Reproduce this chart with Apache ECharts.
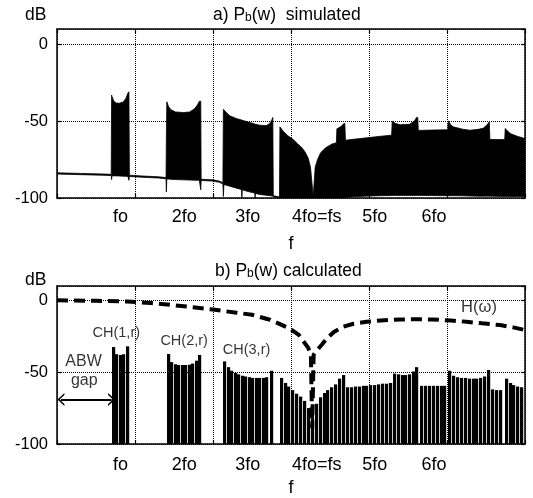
<!DOCTYPE html>
<html><head><meta charset="utf-8">
<script src="https://cdn.jsdelivr.net/npm/echarts@6/dist/echarts.min.js"></script>
<style>html,body{margin:0;padding:0;background:#fff}#c{width:533px;height:498px}</style>
</head><body><div id="c"></div>
<script>
// ---------- data ----------
// x in grid units (6 grid divisions across the plot), y in dB
const harmonicLabels = ['', 'fo', '2fo', '3fo', '4fo=fs', '5fo', '6fo', ''];
const foInGridUnits = 0.815;

// a) simulated spectrum: lower / upper envelope of the dense trace
const simX = [0.000,0.300,0.600,0.695,0.700,0.705,0.730,0.760,0.800,0.850,0.885,0.910,0.922,0.928,1.100,1.300,1.398,1.402,1.408,1.430,1.460,1.520,1.620,1.700,1.760,1.800,1.825,1.843,1.848,2.000,2.080,2.127,2.133,2.140,2.180,2.215,2.300,2.365,2.370,2.375,2.450,2.535,2.540,2.545,2.600,2.680,2.730,2.755,2.767,2.773,2.852,2.858,2.900,2.960,3.030,3.080,3.135,3.180,3.220,3.250,3.285,3.310,3.340,3.380,3.440,3.520,3.582,3.588,3.640,3.680,3.690,3.698,3.800,4.010,4.150,4.290,4.298,4.340,4.400,4.520,4.580,4.610,4.625,4.632,4.800,5.010,5.018,5.050,5.080,5.200,5.295,5.400,5.465,5.520,5.542,5.550,5.740,5.746,5.780,5.810,5.900,6.000];
const simLower = [-84.4,-84.8,-85.2,-85.4,-88.0,-85.5,-85.6,-85.6,-85.7,-85.8,-85.9,-86.0,-88.5,-86.0,-86.5,-87.0,-87.5,-96.0,-87.6,-87.7,-87.8,-88.0,-88.2,-88.3,-88.4,-88.5,-88.5,-94.7,-88.6,-89.0,-89.8,-90.8,-99.0,-91.2,-91.8,-92.3,-93.6,-94.5,-99.8,-94.7,-95.8,-96.8,-99.8,-97.0,-97.7,-98.2,-98.5,-98.7,-98.8,-99.2,-99.8,-100,-100,-100,-100,-100,-100,-100,-100,-100,-100,-100,-100,-100,-100,-100,-100,-100,-100,-100,-99.8,-99.6,-99.2,-98.7,-98.5,-98.4,-98.4,-98.3,-98.3,-98.3,-98.3,-98.3,-98.3,-98.3,-98.4,-98.5,-98.5,-98.5,-98.5,-98.6,-98.7,-98.8,-98.8,-98.8,-98.8,-98.8,-99.0,-99.0,-99.0,-99.0,-99.0,-99.0];
const simUpper = [-83.6,-84.0,-84.4,-84.6,-33.0,-34.0,-37.0,-38.2,-38.3,-37.5,-35.0,-31.5,-30.9,-85.2,-85.7,-86.2,-86.7,-61.0,-37.4,-40.5,-42.5,-44.0,-44.4,-44.0,-42.0,-39.5,-37.0,-37.0,-87.8,-88.2,-89.0,-90.0,-42.4,-42.6,-44.8,-46.5,-48.3,-49.2,-49.3,-49.4,-50.5,-51.8,-51.9,-52.0,-52.6,-52.9,-51.5,-49.0,-47.6,-98.5,-99.3,-53.7,-56.5,-59.5,-62.0,-64.5,-67.0,-70.0,-74.0,-80.0,-99.0,-80.0,-75.0,-70.5,-67.5,-65.0,-64.0,-55.0,-53.5,-51.5,-51.5,-62.4,-61.8,-60.6,-59.8,-59.1,-50.0,-51.5,-52.3,-52.0,-50.0,-47.6,-47.6,-56.0,-55.8,-55.6,-49.8,-52.5,-53.7,-55.2,-55.9,-55.3,-54.6,-52.0,-50.4,-61.9,-62.0,-54.8,-56.5,-58.0,-59.8,-61.3];

// b) calculated spectrum: spectral lines (bars) from the floor
const calcX = [0.72,0.765,0.81,0.86,0.905,
  1.425,1.47,1.515,1.56,1.605,1.65,1.695,1.74,1.785,1.825,
  2.15,2.195,2.24,2.285,2.33,2.375,2.42,2.465,2.51,2.555,2.60,2.645,2.69,2.75,
  2.875,2.925,2.975,3.025,3.075,3.125,3.175,3.225,3.275,3.325,3.375,3.425,3.475,3.525,3.575,3.625,3.675,
  3.725,3.775,3.825,3.875,3.925,3.975,4.025,4.075,4.125,4.175,4.225,4.275,
  4.325,4.375,4.425,4.475,4.525,4.575,4.615,
  4.675,4.725,4.775,4.825,4.875,4.925,4.975,
  5.035,5.085,5.135,5.185,5.235,5.285,5.335,5.385,5.435,5.485,5.53,
  5.585,5.635,5.685,5.76,5.81,5.86,5.91,5.96];
const calcY = [-32.5,-37.5,-38,-37.5,-32,
  -37.3,-43,-44.5,-45,-45,-45,-44.8,-44,-42,-38,
  -42.5,-46.5,-49,-50.5,-51.5,-52.5,-53,-53.5,-54,-54,-54,-54,-53.5,-49,
  -54,-57.5,-60,-62.5,-65,-67,-70,-75,-82,-72,-67.5,-64.5,-62.5,-60.5,-58.5,-54.5,-52,
  -60.5,-60.5,-60,-60,-59.5,-59.5,-59,-59,-58.5,-58,-58,-57.5,
  -51,-51.5,-52,-52,-51.5,-49.5,-46.5,
  -59.5,-59.5,-59.5,-59.5,-59.5,-59.5,-59.5,
  -49,-52.5,-53.5,-54,-54,-54.5,-54.5,-54.5,-54,-53,-48.5,
  -62,-62.5,-62.5,-54.5,-57.5,-59,-60,-60.5];

// H(omega) response (dashed)
const hX = [0,0.5,0.9,1.2,1.5,1.8,2.0,2.3,2.5,2.73,2.98,3.1,3.16,3.22,3.255,3.272,3.29,3.33,3.4,3.46,3.55,3.67,3.8,3.97,4.2,4.4,4.6,4.82,5.05,5.25,5.45,5.68,5.85,6.0];
const hY = [0,-0.3,-0.8,-1.8,-3.4,-5.1,-6.4,-8.6,-10,-13.5,-19.5,-24,-28.5,-33,-38,-89,-38,-35,-30.5,-26.5,-22,-18.4,-16.3,-14.9,-13.8,-13.3,-13.1,-13.3,-14,-14.9,-16,-17.2,-18.8,-20.7];

const annotationTexts = ['CH(1,r)', 'CH(2,r)', 'CH(3,r)', 'ABW', 'gap', 'H(\u03c9)'];
const abwGapEnds = [0.05, 0.70];
const abwGapLevel = -69;

// ---------- chart ----------
const FONT = '"Liberation Sans", Arial, sans-serif';
const chart = echarts.init(document.getElementById('c'), null, {renderer: 'canvas'});

function gridX(gi, nameGap, labelMargin) {
  return [
    {gridIndex: gi, type: 'value', min: 0, max: 6, interval: 1, position: 'bottom',
     axisLine: {show: true, onZero: false, lineStyle: {color: '#000', width: 1.5}},
     axisTick: {show: true, inside: true, length: 4, lineStyle: {color: '#000', width: 1.2}},
     axisLabel: {show: false},
     splitLine: {show: true, lineStyle: {color: '#000', width: 1, type: 'dotted'}},
     name: 'f', nameLocation: 'middle', nameGap: nameGap,
     nameTextStyle: {color: '#000', fontSize: 18, fontFamily: FONT}},
    {gridIndex: gi, type: 'value', min: 0, max: 6, interval: 1, position: 'top',
     axisLine: {show: true, onZero: false, lineStyle: {color: '#000', width: 1.5}},
     axisTick: {show: true, inside: true, length: 4, lineStyle: {color: '#000', width: 1.2}},
     axisLabel: {show: false}, splitLine: {show: false}},
    {gridIndex: gi, type: 'value', min: 0, max: 6 / foInGridUnits, interval: 1, position: 'bottom',
     axisLine: {show: false}, axisTick: {show: false}, splitLine: {show: false},
     axisLabel: {show: true, margin: labelMargin, color: '#000', fontSize: 18, fontFamily: FONT,
       showMinLabel: false, showMaxLabel: false,
       formatter: v => {
         const i = Math.round(v);
         if (Math.abs(v - i) > 1e-6) return '';
         const t = harmonicLabels[i] || '';
         if (i === 4) return '{r|' + t + '}';
         if (i === 6) return '{l|' + t + '}';
         return t;
       },
       rich: {r: {fontSize: 18, fontFamily: FONT, color: '#000', padding: [0, 0, 0, 11]},
              l: {fontSize: 18, fontFamily: FONT, color: '#000', padding: [0, 9, 0, 0]}}}}
  ];
}
function gridY(gi) {
  return [
    {gridIndex: gi, type: 'value', min: -100, max: 10, interval: 50, position: 'left',
     axisLine: {show: true, onZero: false, lineStyle: {color: '#000', width: 1.5}},
     axisTick: {show: true, inside: true, length: 4, lineStyle: {color: '#000', width: 1.2}},
     axisLabel: {show: true, margin: 9, color: '#000', fontSize: 16.5, fontFamily: FONT, showMaxLabel: false},
     splitLine: {show: true, lineStyle: {color: '#000', width: 1, type: 'dotted'}}},
    {gridIndex: gi, type: 'value', min: -100, max: 10, interval: 50, position: 'right',
     axisLine: {show: true, onZero: false, lineStyle: {color: '#000', width: 1.5}},
     axisTick: {show: true, inside: true, length: 4, lineStyle: {color: '#000', width: 1.2}},
     axisLabel: {show: false}, splitLine: {show: false}}
  ];
}

const simData = simX.map((x, i) => [x, simLower[i], simUpper[i]]);
const calcData = calcX.map((x, i) => [x, calcY[i]]);
const hData = hX.map((x, i) => [x, hY[i]]);

const chevron = 'path://M0,10 L5,0 L10,10 L8.4,10 L5,3.2 L1.6,10 Z';

const titleStyle = {color: '#000', fontSize: 17.5, fontWeight: 'normal', fontFamily: FONT,
  rich: {sub: {fontSize: 12, fontFamily: FONT, color: '#000', verticalAlign: 'bottom', padding: [6, 0, 0, 0]}}};

const option = {
  animation: false,
  backgroundColor: '#fff',
  title: [
    {text: 'dB', left: 20, top: 1, textStyle: titleStyle},
    {text: 'a) P{sub|b}(w)  simulated', left: 208, top: 1, textStyle: titleStyle},
    {text: 'dB', left: 20, top: 266, textStyle: titleStyle},
    {text: 'b) P{sub|b}(w) calculated', left: 210, top: 257, textStyle: titleStyle}
  ],
  grid: [
    {left: 57, right: 8, top: 29, height: 169},
    {left: 57, right: 8, top: 286, height: 159}
  ],
  xAxis: [].concat(gridX(0, 37, 10), gridX(1, 35, 12)),
  yAxis: [].concat(gridY(0), gridY(1)),
  series: [
    {
      type: 'custom', name: 'simulated', xAxisIndex: 0, yAxisIndex: 0, clip: true, z: 3,
      data: simData, encode: {x: 0, y: [1, 2]},
      renderItem: function (params, api) {
        if (params.dataIndex !== 0) return null;
        const pts = [];
        for (let i = 0; i < simX.length; i++) pts.push(api.coord([simX[i], simUpper[i]]));
        for (let i = simX.length - 1; i >= 0; i--) pts.push(api.coord([simX[i], simLower[i]]));
        return {type: 'polygon', shape: {points: pts},
          style: {fill: '#000', stroke: '#000', lineWidth: 0.8}};
      }
    },
    {
      type: 'custom', name: 'calculated', xAxisIndex: 3, yAxisIndex: 2, clip: true, z: 3,
      data: calcData, encode: {x: 0, y: 1},
      renderItem: function (params, api) {
        const top = api.coord([api.value(0), api.value(1)]);
        const base = api.coord([api.value(0), -100]);
        const left = Math.round(top[0] - 1.6);
        return {type: 'rect', shape: {x: left, y: top[1], width: 3.2, height: base[1] - top[1]},
          style: {fill: '#000'}};
      }
    },
    {
      type: 'line', name: 'H', xAxisIndex: 3, yAxisIndex: 2, data: hData, z: 5,
      showSymbol: false, symbol: 'none', clip: true,
      lineStyle: {color: '#000', width: 4, type: [11, 6], cap: 'butt'}
    },
    {
      type: 'scatter', name: 'notes', xAxisIndex: 3, yAxisIndex: 2, symbolSize: 0, z: 6,
      label: {show: true, position: 'inside', formatter: '{b}', color: '#000', fontFamily: FONT},
      data: [
        {name: annotationTexts[0], value: [0.76, -23], label: {fontSize: 14.5}},
        {name: annotationTexts[1], value: [1.63, -28.5], label: {fontSize: 14.5}},
        {name: annotationTexts[2], value: [2.43, -34.5], label: {fontSize: 14.5}},
        {name: annotationTexts[3], value: [0.34, -42.5], label: {fontSize: 16}},
        {name: annotationTexts[4], value: [0.35, -56], label: {fontSize: 16}},
        {name: annotationTexts[5], value: [5.41, -4.6], label: {fontSize: 16.5}}
      ],
      markLine: {
        silent: true, animation: false,
        symbol: [chevron, chevron], symbolSize: [13, 7], symbolOffset: [0, 0],
        label: {show: false},
        lineStyle: {color: '#000', width: 2, type: 'solid'},
        data: [[{coord: [abwGapEnds[0], abwGapLevel]}, {coord: [abwGapEnds[1], abwGapLevel]}]]
      }
    }
  ]
};
chart.setOption(option);
</script>
</body></html>
